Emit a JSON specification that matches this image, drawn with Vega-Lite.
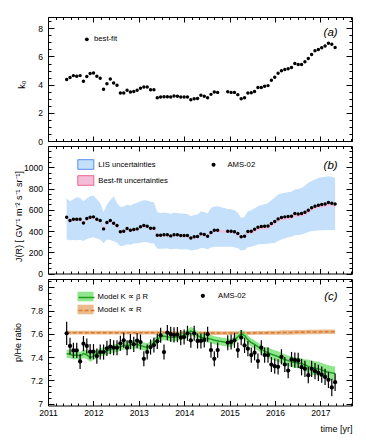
{
"$schema": "https://vega.github.io/schema/vega-lite/v6.json",
"background": "white",
"autosize": {"type": "pad"},
"padding": {"left": 12, "top": 16, "right": 10, "bottom": 4},
"spacing": 5,
"bounds": "flush",
"config": {
 "view": {"stroke": "black", "strokeWidth": 1},
 "axis": {"domain": false, "grid": false, "labelFont": "Liberation Sans", "labelFontSize": 8.6, "labelColor": "black", "labelFlush": false, "labelOverlap": false, "tickColor": "black", "tickWidth": 1, "titleFont": "Liberation Sans", "titleFontSize": 9, "titleFontWeight": "normal", "titleColor": "black"},
 "legend": {"labelFont": "Liberation Sans", "labelFontSize": 7.7, "labelColor": "black", "padding": 0, "titlePadding": 0},
 "text": {"font": "Liberation Sans"}
},
"resolve": {"scale": {"shape": "independent", "fill": "independent", "stroke": "independent", "strokeDash": "independent", "color": "independent"}},
"data": {"values": [
{"t":2011.411,"a":4.36,"j":530,"lu":705,"ll":320,"bl":514,"bh":534,"r":7.605,"rl":7.505,"rh":7.705,"g":7.43,"gl":7.395,"gh":7.465,"o":7.61,"ol":7.594,"oh":7.626},
{"t":2011.485,"a":4.50,"j":498,"lu":680,"ll":312,"bl":482,"bh":502,"r":7.496,"rl":7.426,"rh":7.566,"g":7.425,"gl":7.39,"gh":7.46,"o":7.61,"ol":7.594,"oh":7.626},
{"t":2011.559,"a":4.64,"j":511,"lu":700,"ll":315,"bl":495,"bh":515,"r":7.458,"rl":7.393,"rh":7.523,"g":7.415,"gl":7.38,"gh":7.45,"o":7.61,"ol":7.594,"oh":7.626},
{"t":2011.633,"a":4.60,"j":511,"lu":718,"ll":313,"bl":495,"bh":515,"r":7.458,"rl":7.393,"rh":7.523,"g":7.42,"gl":7.385,"gh":7.455,"o":7.61,"ol":7.594,"oh":7.626},
{"t":2011.707,"a":4.64,"j":511,"lu":710,"ll":318,"bl":495,"bh":515,"r":7.363,"rl":7.298,"rh":7.428,"g":7.41,"gl":7.375,"gh":7.445,"o":7.61,"ol":7.594,"oh":7.626},
{"t":2011.781,"a":4.24,"j":476,"lu":680,"ll":305,"bl":460,"bh":480,"r":7.516,"rl":7.451,"rh":7.581,"g":7.43,"gl":7.395,"gh":7.465,"o":7.61,"ol":7.594,"oh":7.626},
{"t":2011.855,"a":4.57,"j":517,"lu":705,"ll":325,"bl":501,"bh":521,"r":7.496,"rl":7.431,"rh":7.561,"g":7.42,"gl":7.385,"gh":7.455,"o":7.61,"ol":7.594,"oh":7.626},
{"t":2011.928,"a":4.79,"j":530,"lu":727,"ll":335,"bl":514,"bh":534,"r":7.447,"rl":7.382,"rh":7.512,"g":7.395,"gl":7.36,"gh":7.43,"o":7.61,"ol":7.594,"oh":7.626},
{"t":2012.002,"a":4.83,"j":533,"lu":733,"ll":342,"bl":517,"bh":537,"r":7.447,"rl":7.382,"rh":7.512,"g":7.41,"gl":7.375,"gh":7.445,"o":7.61,"ol":7.594,"oh":7.626},
{"t":2012.076,"a":4.60,"j":511,"lu":700,"ll":330,"bl":495,"bh":515,"r":7.409,"rl":7.344,"rh":7.474,"g":7.43,"gl":7.395,"gh":7.465,"o":7.61,"ol":7.594,"oh":7.626},
{"t":2012.150,"a":4.45,"j":498,"lu":664,"ll":320,"bl":482,"bh":502,"r":7.444,"rl":7.379,"rh":7.509,"g":7.44,"gl":7.405,"gh":7.475,"o":7.61,"ol":7.594,"oh":7.626},
{"t":2012.224,"a":3.67,"j":420,"lu":577,"ll":285,"bl":404,"bh":424,"r":7.444,"rl":7.379,"rh":7.509,"g":7.45,"gl":7.415,"gh":7.485,"o":7.61,"ol":7.594,"oh":7.626},
{"t":2012.298,"a":4.07,"j":480,"lu":650,"ll":320,"bl":464,"bh":484,"r":7.476,"rl":7.411,"rh":7.541,"g":7.455,"gl":7.42,"gh":7.49,"o":7.61,"ol":7.594,"oh":7.626},
{"t":2012.372,"a":4.40,"j":498,"lu":690,"ll":315,"bl":482,"bh":502,"r":7.49,"rl":7.425,"rh":7.555,"g":7.465,"gl":7.43,"gh":7.5,"o":7.61,"ol":7.594,"oh":7.626},
{"t":2012.446,"a":4.12,"j":473,"lu":727,"ll":304,"bl":457,"bh":477,"r":7.481,"rl":7.416,"rh":7.546,"g":7.475,"gl":7.44,"gh":7.51,"o":7.61,"ol":7.594,"oh":7.626},
{"t":2012.520,"a":3.95,"j":451,"lu":664,"ll":290,"bl":435,"bh":455,"r":7.481,"rl":7.416,"rh":7.546,"g":7.48,"gl":7.445,"gh":7.515,"o":7.61,"ol":7.594,"oh":7.626},
{"t":2012.594,"a":3.40,"j":392,"lu":627,"ll":257,"bl":376,"bh":396,"r":7.519,"rl":7.454,"rh":7.584,"g":7.49,"gl":7.455,"gh":7.525,"o":7.61,"ol":7.594,"oh":7.626},
{"t":2012.668,"a":3.40,"j":398,"lu":630,"ll":262,"bl":382,"bh":402,"r":7.545,"rl":7.48,"rh":7.61,"g":7.5,"gl":7.465,"gh":7.535,"o":7.61,"ol":7.594,"oh":7.626},
{"t":2012.742,"a":3.60,"j":423,"lu":649,"ll":275,"bl":407,"bh":427,"r":7.481,"rl":7.416,"rh":7.546,"g":7.5,"gl":7.465,"gh":7.535,"o":7.61,"ol":7.594,"oh":7.626},
{"t":2012.815,"a":3.48,"j":407,"lu":640,"ll":270,"bl":391,"bh":411,"r":7.533,"rl":7.468,"rh":7.598,"g":7.505,"gl":7.47,"gh":7.54,"o":7.61,"ol":7.594,"oh":7.626},
{"t":2012.889,"a":3.52,"j":414,"lu":655,"ll":282,"bl":398,"bh":418,"r":7.51,"rl":7.445,"rh":7.575,"g":7.51,"gl":7.475,"gh":7.545,"o":7.61,"ol":7.594,"oh":7.626},
{"t":2012.963,"a":3.60,"j":420,"lu":665,"ll":285,"bl":404,"bh":424,"r":7.542,"rl":7.477,"rh":7.607,"g":7.51,"gl":7.475,"gh":7.545,"o":7.61,"ol":7.594,"oh":7.626},
{"t":2013.037,"a":3.74,"j":439,"lu":680,"ll":290,"bl":423,"bh":443,"r":7.53,"rl":7.465,"rh":7.595,"g":7.5,"gl":7.465,"gh":7.535,"o":7.61,"ol":7.594,"oh":7.626},
{"t":2013.111,"a":3.83,"j":451,"lu":690,"ll":297,"bl":435,"bh":455,"r":7.386,"rl":7.321,"rh":7.451,"g":7.49,"gl":7.455,"gh":7.525,"o":7.61,"ol":7.594,"oh":7.626},
{"t":2013.185,"a":3.83,"j":445,"lu":686,"ll":295,"bl":429,"bh":449,"r":7.444,"rl":7.379,"rh":7.509,"g":7.485,"gl":7.45,"gh":7.52,"o":7.61,"ol":7.594,"oh":7.626},
{"t":2013.259,"a":3.64,"j":426,"lu":675,"ll":285,"bl":410,"bh":430,"r":7.487,"rl":7.422,"rh":7.552,"g":7.5,"gl":7.465,"gh":7.535,"o":7.61,"ol":7.594,"oh":7.626},
{"t":2013.333,"a":3.64,"j":426,"lu":671,"ll":283,"bl":410,"bh":430,"r":7.504,"rl":7.439,"rh":7.569,"g":7.525,"gl":7.49,"gh":7.56,"o":7.61,"ol":7.594,"oh":7.626},
{"t":2013.407,"a":3.07,"j":360,"lu":577,"ll":232,"bl":344,"bh":364,"r":7.536,"rl":7.471,"rh":7.601,"g":7.55,"gl":7.515,"gh":7.585,"o":7.61,"ol":7.594,"oh":7.626},
{"t":2013.481,"a":3.12,"j":360,"lu":570,"ll":232,"bl":344,"bh":364,"r":7.588,"rl":7.523,"rh":7.653,"g":7.575,"gl":7.54,"gh":7.61,"o":7.61,"ol":7.594,"oh":7.626},
{"t":2013.555,"a":3.14,"j":364,"lu":575,"ll":235,"bl":348,"bh":368,"r":7.444,"rl":7.379,"rh":7.509,"g":7.58,"gl":7.545,"gh":7.615,"o":7.61,"ol":7.594,"oh":7.626},
{"t":2013.629,"a":3.14,"j":364,"lu":570,"ll":235,"bl":348,"bh":368,"r":7.611,"rl":7.546,"rh":7.676,"g":7.575,"gl":7.54,"gh":7.61,"o":7.61,"ol":7.594,"oh":7.626},
{"t":2013.703,"a":3.12,"j":354,"lu":562,"ll":228,"bl":338,"bh":358,"r":7.597,"rl":7.532,"rh":7.662,"g":7.57,"gl":7.535,"gh":7.605,"o":7.607,"ol":7.591,"oh":7.623},
{"t":2013.776,"a":3.19,"j":364,"lu":572,"ll":233,"bl":348,"bh":368,"r":7.591,"rl":7.526,"rh":7.656,"g":7.57,"gl":7.535,"gh":7.605,"o":7.607,"ol":7.591,"oh":7.623},
{"t":2013.850,"a":3.17,"j":364,"lu":570,"ll":233,"bl":348,"bh":368,"r":7.594,"rl":7.529,"rh":7.659,"g":7.575,"gl":7.54,"gh":7.61,"o":7.607,"ol":7.591,"oh":7.623},
{"t":2013.924,"a":3.12,"j":357,"lu":564,"ll":226,"bl":341,"bh":361,"r":7.568,"rl":7.503,"rh":7.633,"g":7.58,"gl":7.545,"gh":7.615,"o":7.607,"ol":7.591,"oh":7.623},
{"t":2013.998,"a":3.12,"j":357,"lu":562,"ll":228,"bl":341,"bh":361,"r":7.573,"rl":7.508,"rh":7.638,"g":7.59,"gl":7.555,"gh":7.625,"o":7.607,"ol":7.591,"oh":7.623},
{"t":2014.072,"a":3.12,"j":357,"lu":560,"ll":228,"bl":341,"bh":361,"r":7.605,"rl":7.54,"rh":7.67,"g":7.6,"gl":7.565,"gh":7.635,"o":7.607,"ol":7.591,"oh":7.623},
{"t":2014.146,"a":2.93,"j":335,"lu":539,"ll":216,"bl":319,"bh":339,"r":7.545,"rl":7.48,"rh":7.61,"g":7.625,"gl":7.59,"gh":7.66,"o":7.607,"ol":7.591,"oh":7.623},
{"t":2014.220,"a":3.00,"j":345,"lu":550,"ll":222,"bl":329,"bh":349,"r":7.605,"rl":7.54,"rh":7.67,"g":7.61,"gl":7.575,"gh":7.645,"o":7.607,"ol":7.591,"oh":7.623},
{"t":2014.294,"a":3.02,"j":348,"lu":556,"ll":225,"bl":332,"bh":352,"r":7.539,"rl":7.474,"rh":7.604,"g":7.585,"gl":7.55,"gh":7.62,"o":7.607,"ol":7.591,"oh":7.623},
{"t":2014.368,"a":3.24,"j":373,"lu":586,"ll":241,"bl":357,"bh":377,"r":7.539,"rl":7.474,"rh":7.604,"g":7.57,"gl":7.535,"gh":7.605,"o":7.607,"ol":7.591,"oh":7.623},
{"t":2014.442,"a":3.17,"j":367,"lu":580,"ll":238,"bl":351,"bh":371,"r":7.548,"rl":7.483,"rh":7.613,"g":7.565,"gl":7.53,"gh":7.6,"o":7.607,"ol":7.591,"oh":7.623},
{"t":2014.516,"a":3.07,"j":351,"lu":565,"ll":228,"bl":335,"bh":355,"r":7.597,"rl":7.532,"rh":7.662,"g":7.56,"gl":7.525,"gh":7.595,"o":7.607,"ol":7.591,"oh":7.623},
{"t":2014.590,"a":3.31,"j":386,"lu":618,"ll":245,"bl":370,"bh":390,"r":7.461,"rl":7.396,"rh":7.526,"g":7.555,"gl":7.52,"gh":7.59,"o":7.607,"ol":7.591,"oh":7.623},
{"t":2014.663,"a":3.48,"j":407,"lu":630,"ll":251,"bl":391,"bh":411,"r":7.386,"rl":7.321,"rh":7.451,"g":7.545,"gl":7.51,"gh":7.58,"o":7.607,"ol":7.591,"oh":7.623},
{"t":2014.737,"a":3.45,"j":407,"lu":633,"ll":251,"bl":391,"bh":411,"r":7.461,"rl":7.396,"rh":7.526,"g":7.54,"gl":7.505,"gh":7.575,"o":7.607,"ol":7.591,"oh":7.623},
{"t":2014.959,"a":3.50,"j":398,"lu":608,"ll":252,"bl":382,"bh":402,"r":7.524,"rl":7.459,"rh":7.589,"g":7.525,"gl":7.49,"gh":7.56,"o":7.607,"ol":7.591,"oh":7.623},
{"t":2015.033,"a":3.45,"j":398,"lu":605,"ll":252,"bl":382,"bh":402,"r":7.53,"rl":7.465,"rh":7.595,"g":7.52,"gl":7.485,"gh":7.555,"o":7.607,"ol":7.591,"oh":7.623},
{"t":2015.107,"a":3.45,"j":392,"lu":595,"ll":248,"bl":376,"bh":396,"r":7.545,"rl":7.48,"rh":7.61,"g":7.545,"gl":7.51,"gh":7.58,"o":7.607,"ol":7.591,"oh":7.623},
{"t":2015.181,"a":3.29,"j":376,"lu":570,"ll":238,"bl":360,"bh":380,"r":7.461,"rl":7.396,"rh":7.526,"g":7.575,"gl":7.54,"gh":7.61,"o":7.607,"ol":7.591,"oh":7.623},
{"t":2015.255,"a":3.00,"j":345,"lu":523,"ll":216,"bl":329,"bh":349,"r":7.568,"rl":7.503,"rh":7.633,"g":7.6,"gl":7.565,"gh":7.635,"o":7.607,"ol":7.591,"oh":7.623},
{"t":2015.329,"a":3.07,"j":351,"lu":535,"ll":222,"bl":335,"bh":355,"r":7.501,"rl":7.436,"rh":7.566,"g":7.585,"gl":7.55,"gh":7.62,"o":7.607,"ol":7.591,"oh":7.623},
{"t":2015.403,"a":3.40,"j":395,"lu":586,"ll":248,"bl":379,"bh":399,"r":7.473,"rl":7.408,"rh":7.538,"g":7.55,"gl":7.515,"gh":7.585,"o":7.607,"ol":7.591,"oh":7.623},
{"t":2015.477,"a":3.43,"j":398,"lu":595,"ll":252,"bl":370,"bh":400,"r":7.418,"rl":7.353,"rh":7.483,"g":7.525,"gl":7.49,"gh":7.56,"o":7.607,"ol":7.591,"oh":7.623},
{"t":2015.550,"a":3.52,"j":417,"lu":615,"ll":262,"bl":389,"bh":419,"r":7.438,"rl":7.373,"rh":7.503,"g":7.51,"gl":7.475,"gh":7.545,"o":7.608,"ol":7.592,"oh":7.624},
{"t":2015.624,"a":3.79,"j":436,"lu":633,"ll":273,"bl":408,"bh":438,"r":7.366,"rl":7.301,"rh":7.431,"g":7.49,"gl":7.455,"gh":7.525,"o":7.608,"ol":7.592,"oh":7.624},
{"t":2015.698,"a":3.79,"j":442,"lu":645,"ll":275,"bl":414,"bh":444,"r":7.481,"rl":7.416,"rh":7.546,"g":7.47,"gl":7.435,"gh":7.505,"o":7.608,"ol":7.592,"oh":7.624},
{"t":2015.772,"a":3.88,"j":445,"lu":652,"ll":278,"bl":417,"bh":447,"r":7.418,"rl":7.353,"rh":7.483,"g":7.45,"gl":7.415,"gh":7.485,"o":7.608,"ol":7.592,"oh":7.624},
{"t":2015.846,"a":3.93,"j":448,"lu":664,"ll":280,"bl":420,"bh":450,"r":7.418,"rl":7.353,"rh":7.483,"g":7.44,"gl":7.395,"gh":7.485,"o":7.61,"ol":7.593,"oh":7.627},
{"t":2015.920,"a":4.31,"j":470,"lu":690,"ll":284,"bl":442,"bh":472,"r":7.337,"rl":7.272,"rh":7.402,"g":7.425,"gl":7.38,"gh":7.47,"o":7.61,"ol":7.593,"oh":7.627},
{"t":2015.994,"a":4.52,"j":489,"lu":715,"ll":288,"bl":461,"bh":491,"r":7.323,"rl":7.258,"rh":7.388,"g":7.415,"gl":7.37,"gh":7.46,"o":7.61,"ol":7.593,"oh":7.627},
{"t":2016.068,"a":4.81,"j":514,"lu":743,"ll":305,"bl":486,"bh":516,"r":7.317,"rl":7.252,"rh":7.382,"g":7.405,"gl":7.36,"gh":7.45,"o":7.61,"ol":7.593,"oh":7.627},
{"t":2016.142,"a":4.98,"j":527,"lu":752,"ll":320,"bl":499,"bh":529,"r":7.403,"rl":7.338,"rh":7.468,"g":7.39,"gl":7.345,"gh":7.435,"o":7.612,"ol":7.593,"oh":7.631},
{"t":2016.216,"a":5.07,"j":533,"lu":760,"ll":330,"bl":505,"bh":535,"r":7.337,"rl":7.272,"rh":7.402,"g":7.38,"gl":7.335,"gh":7.425,"o":7.612,"ol":7.593,"oh":7.631},
{"t":2016.290,"a":5.12,"j":536,"lu":765,"ll":342,"bl":508,"bh":538,"r":7.285,"rl":7.22,"rh":7.35,"g":7.37,"gl":7.325,"gh":7.415,"o":7.612,"ol":7.593,"oh":7.631},
{"t":2016.364,"a":5.21,"j":539,"lu":770,"ll":345,"bl":511,"bh":541,"r":7.38,"rl":7.315,"rh":7.445,"g":7.36,"gl":7.315,"gh":7.405,"o":7.612,"ol":7.593,"oh":7.631},
{"t":2016.437,"a":5.50,"j":564,"lu":790,"ll":360,"bl":536,"bh":566,"r":7.375,"rl":7.31,"rh":7.44,"g":7.355,"gl":7.31,"gh":7.4,"o":7.614,"ol":7.595,"oh":7.633},
{"t":2016.511,"a":5.43,"j":561,"lu":796,"ll":362,"bl":533,"bh":563,"r":7.372,"rl":7.307,"rh":7.437,"g":7.35,"gl":7.305,"gh":7.395,"o":7.614,"ol":7.595,"oh":7.633},
{"t":2016.585,"a":5.43,"j":564,"lu":805,"ll":367,"bl":536,"bh":566,"r":7.314,"rl":7.244,"rh":7.384,"g":7.345,"gl":7.3,"gh":7.39,"o":7.614,"ol":7.595,"oh":7.633},
{"t":2016.659,"a":5.62,"j":577,"lu":825,"ll":378,"bl":549,"bh":579,"r":7.3,"rl":7.23,"rh":7.37,"g":7.335,"gl":7.29,"gh":7.38,"o":7.614,"ol":7.595,"oh":7.633},
{"t":2016.733,"a":5.86,"j":596,"lu":853,"ll":390,"bl":568,"bh":598,"r":7.245,"rl":7.175,"rh":7.315,"g":7.32,"gl":7.26,"gh":7.38,"o":7.616,"ol":7.596,"oh":7.636},
{"t":2016.807,"a":6.14,"j":618,"lu":870,"ll":398,"bl":590,"bh":620,"r":7.3,"rl":7.23,"rh":7.37,"g":7.31,"gl":7.25,"gh":7.37,"o":7.616,"ol":7.596,"oh":7.636},
{"t":2016.881,"a":6.40,"j":633,"lu":885,"ll":402,"bl":605,"bh":635,"r":7.28,"rl":7.21,"rh":7.35,"g":7.305,"gl":7.245,"gh":7.365,"o":7.616,"ol":7.596,"oh":7.636},
{"t":2016.955,"a":6.50,"j":643,"lu":900,"ll":404,"bl":615,"bh":645,"r":7.265,"rl":7.195,"rh":7.335,"g":7.3,"gl":7.24,"gh":7.36,"o":7.616,"ol":7.596,"oh":7.636},
{"t":2017.029,"a":6.62,"j":649,"lu":905,"ll":406,"bl":621,"bh":651,"r":7.25,"rl":7.18,"rh":7.32,"g":7.29,"gl":7.23,"gh":7.35,"o":7.618,"ol":7.598,"oh":7.638},
{"t":2017.103,"a":6.74,"j":655,"lu":910,"ll":408,"bl":627,"bh":657,"r":7.23,"rl":7.16,"rh":7.3,"g":7.28,"gl":7.22,"gh":7.34,"o":7.618,"ol":7.598,"oh":7.638},
{"t":2017.177,"a":6.93,"j":668,"lu":915,"ll":410,"bl":640,"bh":670,"r":7.205,"rl":7.135,"rh":7.275,"g":7.27,"gl":7.21,"gh":7.33,"o":7.618,"ol":7.598,"oh":7.638},
{"t":2017.251,"a":6.86,"j":661,"lu":910,"ll":409,"bl":633,"bh":663,"r":7.14,"rl":7.065,"rh":7.215,"g":7.265,"gl":7.205,"gh":7.325,"o":7.618,"ol":7.598,"oh":7.638},
{"t":2017.324,"a":6.64,"j":655,"lu":900,"ll":408,"bl":627,"bh":657,"r":7.185,"rl":7.11,"rh":7.26,"g":7.26,"gl":7.2,"gh":7.32,"o":7.618,"ol":7.598,"oh":7.638}
]},
"vconcat": [
{
 "width": 304, "height": 124,
 "resolve": {"axis": {"x": "independent", "y": "independent"}},
 "layer": [
  {"mark": {"type": "point", "filled": true, "size": 12, "color": "black", "opacity": 1},
   "encoding": {
    "x": {"field": "t", "type": "quantitative", "scale": {"domain": [2011, 2017.696], "nice": false, "zero": false},
      "axis": {"orient": "bottom", "values": [2011,2011.1667,2011.3333,2011.5,2011.6667,2011.8333,2012,2012.1667,2012.3333,2012.5,2012.6667,2012.8333,2013,2013.1667,2013.3333,2013.5,2013.6667,2013.8333,2014,2014.1667,2014.3333,2014.5,2014.6667,2014.8333,2015,2015.1667,2015.3333,2015.5,2015.6667,2015.8333,2016,2016.1667,2016.3333,2016.5,2016.6667,2016.8333,2017,2017.1667,2017.3333,2017.5,2017.6667], "labels": false, "title": null, "zindex": 1,
        "tickSize": {"condition": {"test": "abs(datum.value-round(datum.value))<0.01", "value": -5}, "value": -2.5}}},
    "y": {"field": "a", "type": "quantitative", "scale": {"domain": [0, 8.8], "nice": false, "zero": false},
      "axis": {"orient": "left", "values": [0,0.5,1,1.5,2,2.5,3,3.5,4,4.5,5,5.5,6,6.5,7,7.5,8,8.5], "zindex": 1,
        "tickSize": {"condition": {"test": "datum.value%2===0", "value": -6}, "value": -3},
        "labelExpr": "datum.value%2===0 ? ''+datum.value : ''", "labelPadding": 11.5,
        "title": "k₀", "titleX": -27, "titleY": 67, "titleAngle": 270, "titleBaseline": "middle", "titleAlign": "center"}},
    "shape": {"datum": "best-fit", "scale": {"domain": ["best-fit"], "range": ["circle"]},
      "legend": {"orient": "none", "legendX": 35, "legendY": 18.5, "title": null, "symbolSize": 14, "symbolFillColor": "black", "symbolStrokeColor": "black", "symbolStrokeWidth": 0, "labelOffset": 3.3}}
   }},
  {"mark": {"type": "point", "opacity": 0},
   "encoding": {
    "x": {"field": "t", "type": "quantitative",
      "axis": {"orient": "top", "values": [2011,2011.1667,2011.3333,2011.5,2011.6667,2011.8333,2012,2012.1667,2012.3333,2012.5,2012.6667,2012.8333,2013,2013.1667,2013.3333,2013.5,2013.6667,2013.8333,2014,2014.1667,2014.3333,2014.5,2014.6667,2014.8333,2015,2015.1667,2015.3333,2015.5,2015.6667,2015.8333,2016,2016.1667,2016.3333,2016.5,2016.6667,2016.8333,2017,2017.1667,2017.3333,2017.5,2017.6667], "labels": false, "title": null, "zindex": 1,
        "tickSize": {"condition": {"test": "abs(datum.value-round(datum.value))<0.01", "value": -5}, "value": -2.5}}},
    "y": {"field": "a", "type": "quantitative",
      "axis": {"orient": "right", "values": [0,0.5,1,1.5,2,2.5,3,3.5,4,4.5,5,5.5,6,6.5,7,7.5,8,8.5], "labels": false, "title": null, "zindex": 1,
        "tickSize": {"condition": {"test": "datum.value%2===0", "value": -6}, "value": -3}}}
   }},
  {"data": {"values": [{"lab": "(a)"}]},
   "mark": {"type": "text", "fontStyle": "italic", "fontSize": 11.5, "align": "right", "baseline": "middle", "color": "black"},
   "encoding": {
    "x": {"datum": 2017.38, "type": "quantitative", "axis": null},
    "y": {"datum": 7.64, "type": "quantitative", "axis": null},
    "text": {"field": "lab"}
   }}
 ]
},
{
 "width": 304, "height": 127.5,
 "resolve": {"axis": {"x": "independent", "y": "independent"}},
 "layer": [
  {"mark": {"type": "area", "opacity": 1},
   "encoding": {
    "x": {"field": "t", "type": "quantitative", "scale": {"domain": [2011, 2017.696], "nice": false, "zero": false},
      "axis": {"orient": "bottom", "values": [2011,2011.1667,2011.3333,2011.5,2011.6667,2011.8333,2012,2012.1667,2012.3333,2012.5,2012.6667,2012.8333,2013,2013.1667,2013.3333,2013.5,2013.6667,2013.8333,2014,2014.1667,2014.3333,2014.5,2014.6667,2014.8333,2015,2015.1667,2015.3333,2015.5,2015.6667,2015.8333,2016,2016.1667,2016.3333,2016.5,2016.6667,2016.8333,2017,2017.1667,2017.3333,2017.5,2017.6667], "labels": false, "title": null, "zindex": 1,
        "tickSize": {"condition": {"test": "abs(datum.value-round(datum.value))<0.01", "value": -5}, "value": -2.5}}},
    "y": {"field": "lu", "type": "quantitative", "scale": {"domain": [0, 1200], "nice": false, "zero": false},
      "axis": {"orient": "left", "values": [0,50,100,150,200,250,300,350,400,450,500,550,600,650,700,750,800,850,900,950,1000,1050,1100,1150], "zindex": 1,
        "tickSize": {"condition": {"test": "datum.value%200===0", "value": -6}, "value": -3},
        "labelExpr": "datum.value%200===0 ? ''+datum.value : ''", "labelPadding": 11.5,
        "title": "J(R)  [ GV⁻¹ m⁻² s⁻¹ sr⁻¹]", "titleX": -30, "titleY": 70, "titleAngle": 270, "titleBaseline": "middle", "titleAlign": "center"}},
    "y2": {"field": "ll"},
    "fill": {"datum": "LIS uncertainties", "scale": {"domain": ["LIS uncertainties", "Best-fit uncertainties"], "range": ["#c4e0fa", "#f3bcd9"]},
      "legend": {"orient": "none", "legendX": 29.3, "legendY": 10, "title": null, "symbolType": "M-1,-0.6H1V0.6H-1Z", "symbolSize": 256, "symbolOpacity": 1, "symbolStrokeWidth": 1, "rowPadding": -1, "labelOffset": 4,
        "encode": {"symbols": {"update": {"stroke": {"signal": "datum.value === 'LIS uncertainties' ? '#5a8cf0' : '#f0648c'"}, "strokeWidth": {"value": 1}}}}}}
   }},
  {"mark": {"type": "area", "opacity": 1},
   "encoding": {
    "x": {"field": "t", "type": "quantitative", "axis": null},
    "y": {"field": "bh", "type": "quantitative", "axis": null},
    "y2": {"field": "bl"},
    "fill": {"datum": "Best-fit uncertainties"}
   }},
  {"mark": {"type": "point", "filled": true, "size": 12, "color": "black", "opacity": 1},
   "encoding": {
    "x": {"field": "t", "type": "quantitative", "axis": null},
    "y": {"field": "j", "type": "quantitative", "axis": null},
    "shape": {"datum": "AMS-02", "scale": {"domain": ["AMS-02"], "range": ["circle"]},
      "legend": {"orient": "none", "legendX": 161.7, "legendY": 14.8, "title": null, "symbolSize": 16, "symbolFillColor": "black", "symbolStrokeColor": "black", "symbolStrokeWidth": 0, "labelOffset": 10}}
   }},
  {"mark": {"type": "point", "opacity": 0},
   "encoding": {
    "x": {"field": "t", "type": "quantitative",
      "axis": {"orient": "top", "values": [2011,2011.1667,2011.3333,2011.5,2011.6667,2011.8333,2012,2012.1667,2012.3333,2012.5,2012.6667,2012.8333,2013,2013.1667,2013.3333,2013.5,2013.6667,2013.8333,2014,2014.1667,2014.3333,2014.5,2014.6667,2014.8333,2015,2015.1667,2015.3333,2015.5,2015.6667,2015.8333,2016,2016.1667,2016.3333,2016.5,2016.6667,2016.8333,2017,2017.1667,2017.3333,2017.5,2017.6667], "labels": false, "title": null, "zindex": 1,
        "tickSize": {"condition": {"test": "abs(datum.value-round(datum.value))<0.01", "value": -5}, "value": -2.5}}},
    "y": {"field": "j", "type": "quantitative",
      "axis": {"orient": "right", "values": [0,50,100,150,200,250,300,350,400,450,500,550,600,650,700,750,800,850,900,950,1000,1050,1100,1150], "labels": false, "title": null, "zindex": 1,
        "tickSize": {"condition": {"test": "datum.value%200===0", "value": -6}, "value": -3}}}
   }},
  {"data": {"values": [{"lab": "(b)"}]},
   "mark": {"type": "text", "fontStyle": "italic", "fontSize": 11.5, "align": "right", "baseline": "middle", "color": "black"},
   "encoding": {
    "x": {"datum": 2017.38, "type": "quantitative", "axis": null},
    "y": {"datum": 1016, "type": "quantitative", "axis": null},
    "text": {"field": "lab"}
   }}
 ]
},
{
 "width": 304, "height": 126.5,
 "resolve": {"axis": {"x": "independent", "y": "independent"}},
 "layer": [
  {"mark": {"type": "area", "opacity": 1},
   "encoding": {
    "x": {"field": "t", "type": "quantitative", "scale": {"domain": [2011, 2017.696], "nice": false, "zero": false},
      "axis": {"orient": "bottom", "values": [2011,2011.1667,2011.3333,2011.5,2011.6667,2011.8333,2012,2012.1667,2012.3333,2012.5,2012.6667,2012.8333,2013,2013.1667,2013.3333,2013.5,2013.6667,2013.8333,2014,2014.1667,2014.3333,2014.5,2014.6667,2014.8333,2015,2015.1667,2015.3333,2015.5,2015.6667,2015.8333,2016,2016.1667,2016.3333,2016.5,2016.6667,2016.8333,2017,2017.1667,2017.3333,2017.5,2017.6667], "zindex": 1,
        "tickSize": {"condition": {"test": "abs(datum.value-round(datum.value))<0.01", "value": -5}, "value": -2.5},
        "labelExpr": "abs(datum.value-round(datum.value))<0.01 ? ''+round(datum.value) : ''", "labelPadding": 8.4,
        "title": "time [yr]", "titleX": 304, "titleY": 22.7, "titleAlign": "right", "titleBaseline": "middle", "titleAngle": 0}},
    "y": {"field": "oh", "type": "quantitative", "scale": {"domain": [6.985, 8.071], "nice": false, "zero": false},
      "axis": {"orient": "left", "values": [7,7.05,7.1,7.15,7.2,7.25,7.3,7.35,7.4,7.45,7.5,7.55,7.6,7.65,7.7,7.75,7.8,7.85,7.9,7.95,8,8.05], "zindex": 1,
        "tickSize": {"condition": {"test": "abs(datum.value*5-round(datum.value*5))<0.01", "value": -6}, "value": -3},
        "labelExpr": "abs(datum.value*5-round(datum.value*5))<0.01 ? ''+(round(datum.value*10)/10) : ''", "labelPadding": 11.5,
        "title": "p/He ratio", "titleX": -31, "titleY": 63, "titleAngle": 270, "titleBaseline": "middle", "titleAlign": "center"}},
    "y2": {"field": "ol"},
    "fill": {"datum": "Model K ∝ R", "scale": {"domain": ["Model K ∝ β R", "Model K ∝ R"], "range": ["#90e68c", "#ebbb8e"]},
      "legend": {"orient": "none", "legendX": 29.5, "legendY": 9.5, "title": null, "symbolType": "M-1,-0.6H1V0.6H-1Z", "symbolSize": 256, "symbolOpacity": 1, "symbolStrokeWidth": 0, "rowPadding": -2, "labelOffset": 4}}
   }},
  {"mark": {"type": "area", "opacity": 1},
   "encoding": {
    "x": {"field": "t", "type": "quantitative", "axis": null},
    "y": {"field": "gh", "type": "quantitative", "axis": null},
    "y2": {"field": "gl"},
    "fill": {"datum": "Model K ∝ β R"}
   }},
  {"mark": {"type": "line", "strokeWidth": 1.5},
   "encoding": {
    "x": {"field": "t", "type": "quantitative", "axis": null},
    "y": {"field": "o", "type": "quantitative", "axis": null},
    "stroke": {"datum": "Model K ∝ R ", "scale": {"domain": ["Model K ∝ β R ", "Model K ∝ R "], "range": ["#1e9e1e", "#d9772b"]},
      "legend": {"orient": "none", "legendX": 29.5, "legendY": 9.5, "title": null, "symbolType": "stroke", "symbolSize": 256, "symbolStrokeWidth": 1.5, "rowPadding": -2, "labelOffset": 4, "labelExpr": "''"}},
    "strokeDash": {"datum": "Model K ∝ R ", "scale": {"domain": ["Model K ∝ β R ", "Model K ∝ R "], "range": [[1, 0], [4, 2]]},
      "legend": {"orient": "none", "legendX": 29.5, "legendY": 9.5, "title": null, "symbolType": "stroke", "symbolSize": 256, "symbolStrokeWidth": 1.5, "rowPadding": -2, "labelOffset": 4, "labelExpr": "''"}}
   }},
  {"mark": {"type": "line", "strokeWidth": 1.5},
   "encoding": {
    "x": {"field": "t", "type": "quantitative", "axis": null},
    "y": {"field": "g", "type": "quantitative", "axis": null},
    "stroke": {"datum": "Model K ∝ β R "},
    "strokeDash": {"datum": "Model K ∝ β R "}
   }},
  {"mark": {"type": "rule", "color": "black", "strokeWidth": 1.2},
   "encoding": {
    "x": {"field": "t", "type": "quantitative", "axis": null},
    "y": {"field": "rl", "type": "quantitative", "axis": null},
    "y2": {"field": "rh"}
   }},
  {"mark": {"type": "point", "filled": true, "size": 18, "color": "black", "opacity": 1},
   "encoding": {
    "x": {"field": "t", "type": "quantitative", "axis": null},
    "y": {"field": "r", "type": "quantitative", "axis": null},
    "shape": {"datum": "AMS-02", "scale": {"domain": ["AMS-02"], "range": ["circle"]},
      "legend": {"orient": "none", "legendX": 151, "legendY": 13, "title": null, "symbolSize": 18, "symbolFillColor": "black", "symbolStrokeColor": "black", "symbolStrokeWidth": 0, "labelOffset": 11.3}}
   }},
  {"mark": {"type": "point", "opacity": 0},
   "encoding": {
    "x": {"field": "t", "type": "quantitative",
      "axis": {"orient": "top", "values": [2011,2011.1667,2011.3333,2011.5,2011.6667,2011.8333,2012,2012.1667,2012.3333,2012.5,2012.6667,2012.8333,2013,2013.1667,2013.3333,2013.5,2013.6667,2013.8333,2014,2014.1667,2014.3333,2014.5,2014.6667,2014.8333,2015,2015.1667,2015.3333,2015.5,2015.6667,2015.8333,2016,2016.1667,2016.3333,2016.5,2016.6667,2016.8333,2017,2017.1667,2017.3333,2017.5,2017.6667], "labels": false, "title": null, "zindex": 1,
        "tickSize": {"condition": {"test": "abs(datum.value-round(datum.value))<0.01", "value": -5}, "value": -2.5}}},
    "y": {"field": "r", "type": "quantitative",
      "axis": {"orient": "right", "values": [7,7.05,7.1,7.15,7.2,7.25,7.3,7.35,7.4,7.45,7.5,7.55,7.6,7.65,7.7,7.75,7.8,7.85,7.9,7.95,8,8.05], "labels": false, "title": null, "zindex": 1,
        "tickSize": {"condition": {"test": "abs(datum.value*5-round(datum.value*5))<0.01", "value": -6}, "value": -3}}}
   }},
  {"data": {"values": [{"lab": "(c)"}]},
   "mark": {"type": "text", "fontStyle": "italic", "fontSize": 11.5, "align": "right", "baseline": "middle", "color": "black"},
   "encoding": {
    "x": {"datum": 2017.38, "type": "quantitative", "axis": null},
    "y": {"datum": 7.92, "type": "quantitative", "axis": null},
    "text": {"field": "lab"}
   }}
 ]
}
]
}
